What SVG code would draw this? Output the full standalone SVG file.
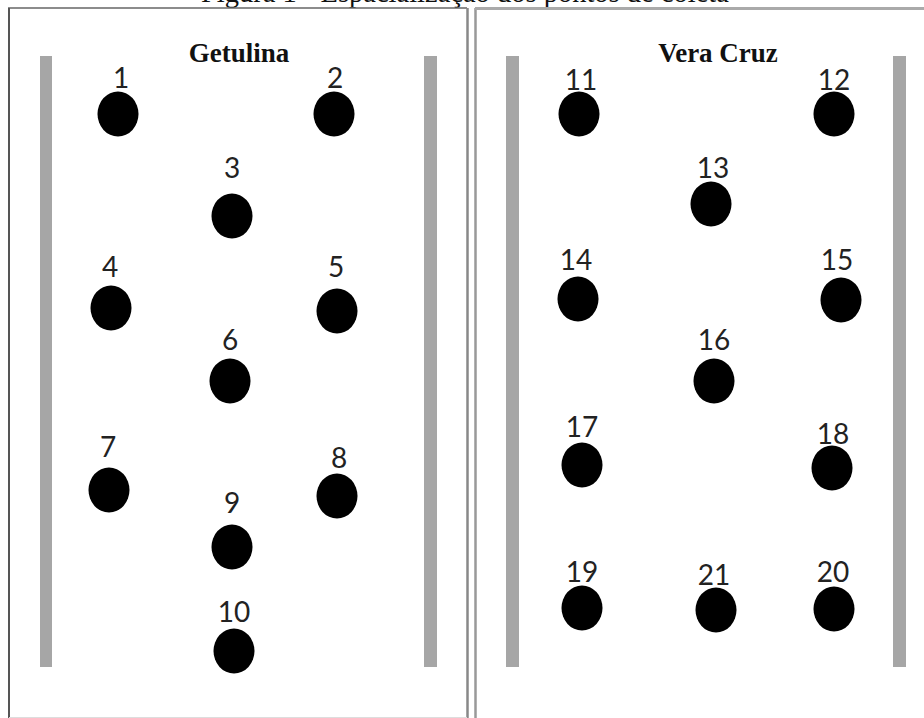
<svg xmlns="http://www.w3.org/2000/svg" width="924" height="718" viewBox="0 0 924 718">
<style>
.bar{fill:#a6a6a6}
.dot{fill:#000}
.lbl{font-family:Lato,"Open Sans","Liberation Sans",sans-serif;font-size:28px;fill:#222;text-anchor:middle}
.ttl{font-family:"Liberation Serif","Times New Roman",serif;font-size:27px;font-weight:bold;fill:#111;text-anchor:middle}
.cap{font-family:"Liberation Serif","Times New Roman",serif;font-size:28.5px;fill:#111}
</style>
<rect width="924" height="718" fill="#fff"/>
<text class="cap" x="201" y="2">Figura 1 - Espacialização dos pontos de coleta</text>
<g id="panel-getulina">
<line x1="8" y1="8" x2="467" y2="8" stroke="#666" stroke-width="1.5"/>
<line x1="9" y1="8" x2="9" y2="718" stroke="#555" stroke-width="2"/>
<line x1="467.5" y1="8" x2="467.5" y2="718" stroke="#888" stroke-width="2.5"/>
<line x1="9" y1="717.5" x2="467" y2="717.5" stroke="#ddd" stroke-width="1"/>
<rect class="bar" x="40" y="56" width="12" height="611"/>
<rect class="bar" x="424" y="56" width="13" height="611"/>
<text class="ttl" x="239" y="62">Getulina</text>
</g>
<g id="panel-veracruz">
<line x1="475.5" y1="8" x2="475.5" y2="718" stroke="#999" stroke-width="2.5"/>
<line x1="475" y1="8.5" x2="924" y2="8.5" stroke="#aaa" stroke-width="3"/>
<rect class="bar" x="506" y="56" width="13" height="611"/>
<rect class="bar" x="893" y="56" width="13" height="611"/>
<text class="ttl" x="718" y="62">Vera Cruz</text>
</g>
<g id="p1"><ellipse class="dot" cx="118" cy="114" rx="20.5" ry="22.5"/><text class="lbl" x="121" y="88">1</text></g>
<g id="p2"><ellipse class="dot" cx="334" cy="114" rx="20.5" ry="22.5"/><text class="lbl" x="335" y="88">2</text></g>
<g id="p3"><ellipse class="dot" cx="232" cy="216" rx="20.5" ry="22.5"/><text class="lbl" x="232" y="178">3</text></g>
<g id="p4"><ellipse class="dot" cx="111" cy="308" rx="20.5" ry="22.5"/><text class="lbl" x="110" y="277">4</text></g>
<g id="p5"><ellipse class="dot" cx="337" cy="311" rx="20.5" ry="22.5"/><text class="lbl" x="336" y="277">5</text></g>
<g id="p6"><ellipse class="dot" cx="230" cy="381" rx="20.5" ry="22.5"/><text class="lbl" x="230" y="350">6</text></g>
<g id="p7"><ellipse class="dot" cx="109" cy="490" rx="20.5" ry="22.5"/><text class="lbl" x="108" y="457">7</text></g>
<g id="p8"><ellipse class="dot" cx="337" cy="496" rx="20.5" ry="22.5"/><text class="lbl" x="339" y="468">8</text></g>
<g id="p9"><ellipse class="dot" cx="232" cy="547" rx="20.5" ry="22.5"/><text class="lbl" x="232" y="513">9</text></g>
<g id="p10"><ellipse class="dot" cx="234" cy="651" rx="20.5" ry="22.5"/><text class="lbl" x="234" y="622">10</text></g>
<g id="p11"><ellipse class="dot" cx="579" cy="114" rx="20.5" ry="22.5"/><text class="lbl" x="581" y="90">11</text></g>
<g id="p12"><ellipse class="dot" cx="834" cy="114" rx="20.5" ry="22.5"/><text class="lbl" x="834" y="90">12</text></g>
<g id="p13"><ellipse class="dot" cx="711" cy="204" rx="20.5" ry="22.5"/><text class="lbl" x="713" y="178">13</text></g>
<g id="p14"><ellipse class="dot" cx="578" cy="299" rx="20.5" ry="22.5"/><text class="lbl" x="576" y="270">14</text></g>
<g id="p15"><ellipse class="dot" cx="841" cy="300" rx="20.5" ry="22.5"/><text class="lbl" x="837" y="270">15</text></g>
<g id="p16"><ellipse class="dot" cx="714" cy="381" rx="20.5" ry="22.5"/><text class="lbl" x="714" y="350">16</text></g>
<g id="p17"><ellipse class="dot" cx="582" cy="465" rx="20.5" ry="22.5"/><text class="lbl" x="582" y="437">17</text></g>
<g id="p18"><ellipse class="dot" cx="832" cy="468" rx="20.5" ry="22.5"/><text class="lbl" x="833" y="444">18</text></g>
<g id="p19"><ellipse class="dot" cx="582" cy="608" rx="20.5" ry="22.5"/><text class="lbl" x="582" y="582">19</text></g>
<g id="p21"><ellipse class="dot" cx="716" cy="610" rx="20.5" ry="22.5"/><text class="lbl" x="714" y="585">21</text></g>
<g id="p20"><ellipse class="dot" cx="834" cy="609" rx="20.5" ry="22.5"/><text class="lbl" x="833" y="582">20</text></g>
<g id="connectors"></g>
</svg>
